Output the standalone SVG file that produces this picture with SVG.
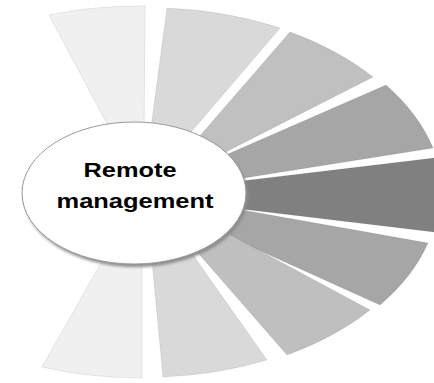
<svg xmlns="http://www.w3.org/2000/svg" width="434" height="383" viewBox="0 0 434 383">
<defs>
<style>
.w{stroke:#000;stroke-opacity:0.08;stroke-width:1}
.t{font-family:"Liberation Sans",Arial,sans-serif;font-weight:bold;font-size:21px;fill:#000;text-anchor:middle}
</style>
<filter id="sh" x="-20%" y="-20%" width="140%" height="140%">
<feGaussianBlur stdDeviation="1.5"/>
</filter>
</defs>
<rect width="434" height="383" fill="#fff"/>
<g id="wedges">
<path id="w1" class="w" fill="#f0f0f0" d="M121,150 L49,15 A293,188 0 0,1 145,6 L144,150 Z"/>
<path id="w2" class="w" fill="#d9d9d9" d="M148,150 L167,8 A293,188 0 0,1 280,28 L180,145 Z"/>
<path id="w3" class="w" fill="#c0c0c0" d="M185,153 L290,32 A293,188 0 0,1 373,77 L210,160 Z"/>
<path id="w4" class="w" fill="#a6a6a6" d="M212,161 L386,85 A293,188 0 0,1 433,148 L225,181 Z"/>
<path id="w5" class="w" fill="#808080" d="M225,183 L434,158 A293,188 0 0,1 434,232 L225,207 Z"/>
<path id="w6" class="w" fill="#a6a6a6" d="M225,207 L428,243 A293,188 0 0,1 380,305 L212,229 Z"/>
<path id="w7" class="w" fill="#bfbfbf" d="M212,225 L370,310 A293,188 0 0,1 287,355 L185,238 Z"/>
<path id="w8" class="w" fill="#d9d9d9" d="M181,238 L267,360 A293,188 0 0,1 163,377 L150,240 Z"/>
<path id="w9" class="w" fill="#f0f0f0" d="M142,240 L142,378 A293,188 0 0,1 42,367 L114,240 Z"/>
</g>
<g id="center">
<ellipse cx="136" cy="196" rx="112" ry="71" fill="#8c8c8c" filter="url(#sh)"/>
<ellipse cx="134" cy="193" rx="112" ry="71" fill="#fff" stroke="#9a9a9a" stroke-width="1"/>
<text class="t" x="130" y="177" textLength="93" lengthAdjust="spacingAndGlyphs">Remote</text>
<text class="t" x="135" y="208" textLength="157" lengthAdjust="spacingAndGlyphs">management</text>
</g>
</svg>
